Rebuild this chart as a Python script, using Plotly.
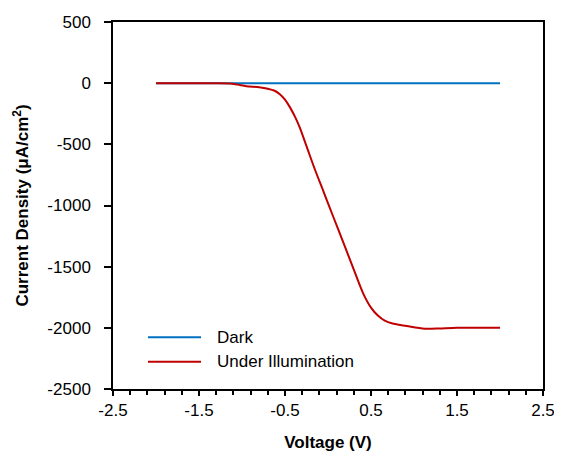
import plotly.graph_objects as go

voltage = [-2.0, -1.6, -1.3, -1.15, -1.05, -0.95, -0.8, -0.7, -0.62, -0.56, -0.5, -0.44,
           -0.38, -0.33, -0.25, -0.15, -0.05, 0.06, 0.18, 0.29, 0.41, 0.5, 0.58, 0.66,
           0.75, 0.87, 1.0, 1.15, 1.3, 1.5, 1.75, 2.0]
dark = [0] * len(voltage)
illum = [0, 0, 0, -2, -12, -25, -33, -45, -62, -90, -135, -200,
         -280, -360, -515, -710, -890, -1090, -1305, -1505, -1720, -1835, -1900, -1942,
         -1965, -1980, -1995, -2008, -2005, -2000, -2000, -2000]

series_names = ["Dark", "Under Illumination"]
series_colors = ["#0070C0", "#C00000"]

x_ticks = [-2.5, -1.5, -0.5, 0.5, 1.5, 2.5]
y_ticks = [500, 0, -500, -1000, -1500, -2000, -2500]

FONT = "Liberation Sans, Arial, sans-serif"

fig = go.Figure()
fig.add_trace(go.Scatter(x=voltage, y=dark, mode="lines", name=series_names[0],
                         line=dict(color=series_colors[0], width=2), showlegend=False))
fig.add_trace(go.Scatter(x=voltage, y=illum, mode="lines", name=series_names[1],
                         line=dict(color=series_colors[1], width=2, shape="spline", smoothing=0.8),
                         showlegend=False))

# manual legend (longer key lines like the reference)
leg_y = [0.141, 0.074]
for name, col, yy in zip(series_names, series_colors, leg_y):
    fig.add_shape(type="line", xref="paper", yref="paper", x0=0.0814, x1=0.2047, y0=yy, y1=yy,
                  line=dict(color=col, width=2))
    fig.add_annotation(xref="paper", yref="paper", x=0.2372, y=yy, text=name, showarrow=False,
                       xanchor="left", yanchor="middle", font=dict(family=FONT, size=17, color="#000"))

# page body has an 8px margin, so the figure is shrunk/offset to keep the plot area in place
fig.update_layout(
    width=554, height=444,
    margin=dict(l=105, r=19, t=14, b=63),
    paper_bgcolor="white", plot_bgcolor="white",
    font=dict(family=FONT, size=17, color="#000"),
)
fig.update_xaxes(
    range=[-2.5, 2.5], tickvals=x_ticks, ticktext=[str(v) for v in x_ticks],
    showgrid=False, zeroline=False, showline=True, linecolor="#000", linewidth=1.5, mirror=True,
    ticks="outside", ticklen=5, tickwidth=1.5, tickcolor="#000",
    minor=dict(dtick=0.2, tick0=-2.5, ticks="outside", ticklen=4, tickwidth=1.5, tickcolor="#000", showgrid=False),
    title=dict(text="Voltage (V)", font=dict(family=FONT, size=17, weight="bold"), standoff=18),
    tickfont=dict(family=FONT, size=17),
    automargin=False,
)
fig.update_yaxes(
    range=[-2500, 500], tickvals=y_ticks, ticktext=[str(v) for v in y_ticks],
    showgrid=False, zeroline=False, showline=True, linecolor="#000", linewidth=1.5, mirror=True,
    ticks="outside", ticklen=7, tickwidth=1.5, tickcolor="#000",
    ticklabelstandoff=10,
    title=dict(text="Current Density (μA/cm<sup>2</sup>)", font=dict(family=FONT, size=17, weight="bold"), standoff=14),
    tickfont=dict(family=FONT, size=17),
    automargin=False,
)

fig.write_html("out.html")
